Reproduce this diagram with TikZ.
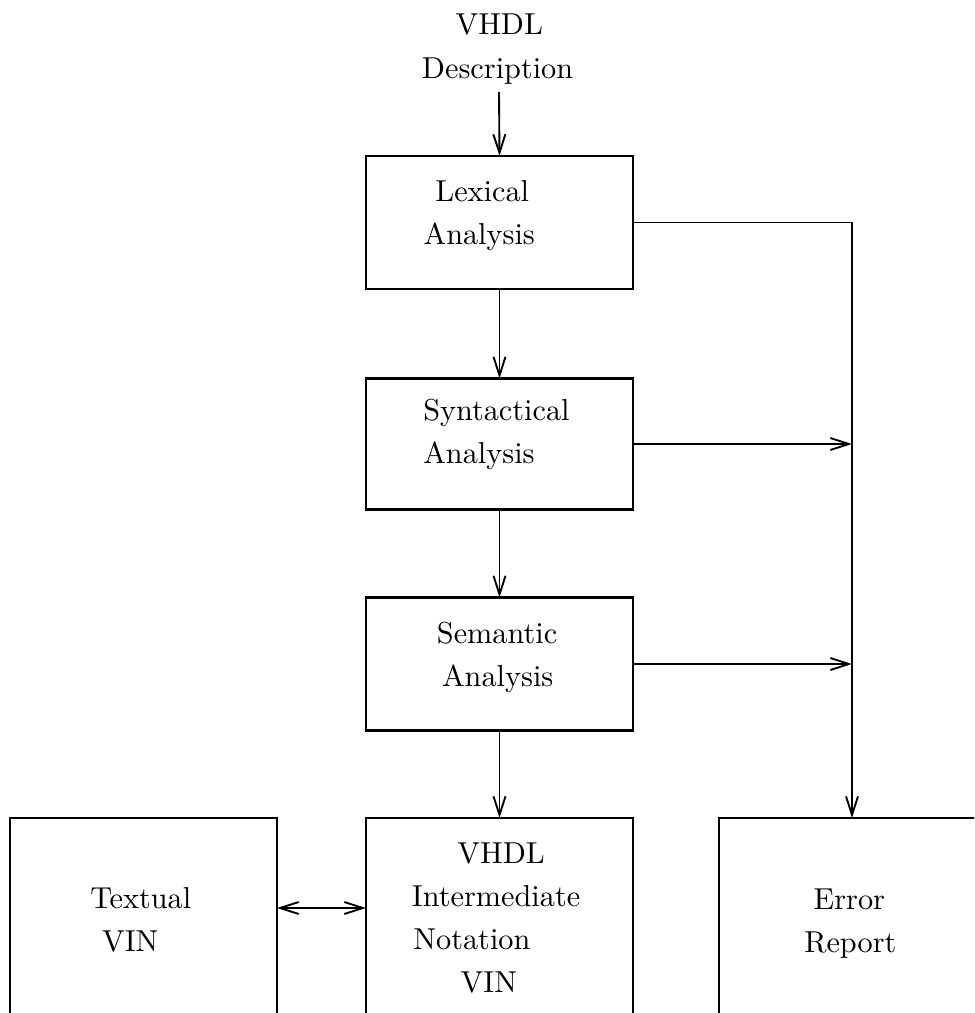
\documentclass[tikz,border=0pt]{standalone}
\usetikzlibrary{arrows.meta}
% Multi-line label set in 10pt type and enlarged as a whole
\newcommand\lbltext[1]{\scalebox{2.27}{\fontsize{10}{12}\selectfont\renewcommand\arraystretch{1.19}\begin{tabular}[t]{@{}l@{}}#1\end{tabular}}}
\begin{document}
\begin{tikzpicture}[x=0.75pt,y=-0.75pt,
  block/.style={draw, line width=1.6pt, minimum width=200.25pt, inner sep=0pt, outer sep=0pt},
  lbl/.style={inner sep=0pt, anchor=base west},
  barb/.tip={Straight Barb[length=14pt,width=9pt]},
  flow/.style={line width=1.4pt, -barb},
  both/.style={line width=1.4pt, barb-barb},
  ]
\useasboundingbox (0,0) rectangle (974,1013);
\begin{scope}
\clip (0,0) rectangle (974,1013);

% analysis stages
\node[block, minimum height=99.75pt] (lex) at (499.5,222.5) {};
\node[block, minimum height=98.25pt] (syn) at (499.5,444) {};
\node[block, minimum height=99.75pt] (sem) at (499.5,664) {};

% bottom row (boxes run on below the page)
\node[block, minimum height=166.5pt] (txt) at (143.5,929) {};
\node[block, minimum height=166.5pt] (vin) at (499.5,929) {};
\node[block, minimum height=166.5pt] (err) at (852.5,929) {};

% labels
\node[lbl] (desclbl) at (421.7,35) {\lbltext{\hspace*{11.1pt}VHDL\\Description}};
\node[lbl] (lexlbl) at (423.3,201.7) {\lbltext{\hspace*{3.9pt}Lexical\\Analysis}};
\node[lbl] (synlbl) at (423,420) {\lbltext{Syntactical\\Analysis}};
\node[lbl] (semlbl) at (436.7,643) {\lbltext{Semantic\\\hspace*{1.67pt}Analysis}};
\node[lbl] (vinlbl) at (411.7,863) {\lbltext{\hspace*{15pt}VHDL\\Intermediate\\\hspace*{0.5pt}Notation\\\hspace*{16.1pt}VIN}};
\node[lbl] (txtlbl) at (90,908) {\lbltext{Textual\\\hspace*{3.9pt}VIN}};
\node[lbl] (errlbl) at (804,909) {\lbltext{\hspace*{3.1pt}Error\\Report}};

% main flow
\coordinate (din) at (499,92);
\draw[flow] (din) -- (lex.north);
\draw[flow] (lex.south) -- (syn.north);
\draw[flow] (syn.south) -- (sem.north);
\draw[flow] (sem.south) -- (vin.north);

% error collection
\coordinate (ecol) at (852,222.5);
\draw[flow] (lex.east) -- (ecol) -- (ecol |- err.north);
\draw[flow] (syn.east) -- (syn.east -| ecol);
\draw[flow] (sem.east) -- (sem.east -| ecol);

% textual form <-> intermediate notation
\coordinate (link) at (320,908);
\draw[both] (link -| txt.east) -- (link -| vin.west);
\end{scope}
\end{tikzpicture}
\end{document}
